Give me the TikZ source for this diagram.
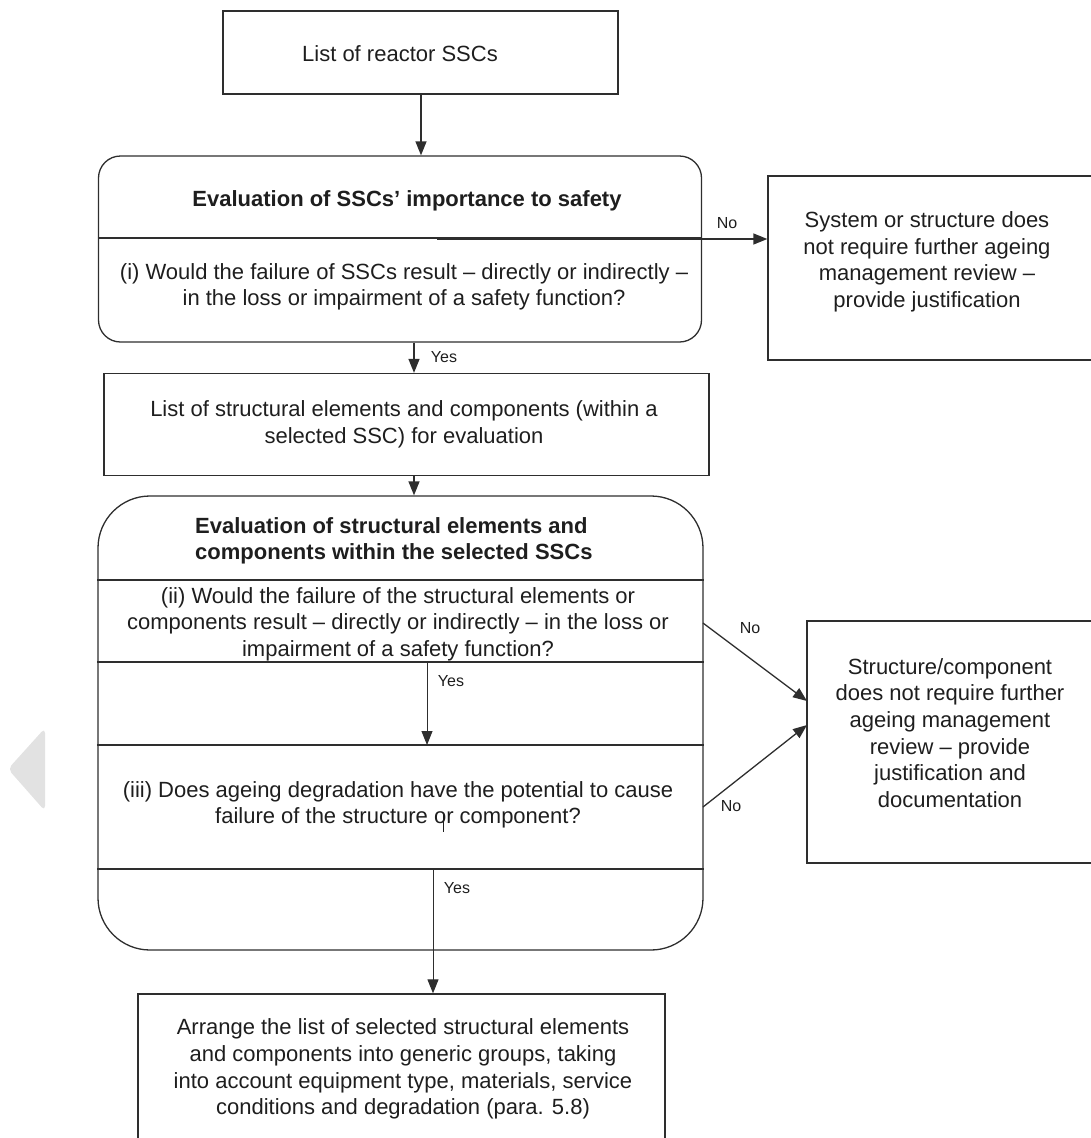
\documentclass[tikz,border=0pt]{standalone}
\usepackage{fontspec}
\setmainfont{Liberation Sans}
\usetikzlibrary{arrows.meta}
\definecolor{ln}{HTML}{2E2E2E}
\definecolor{tx}{HTML}{1E1E1E}
\definecolor{ghost}{HTML}{E2E2E2}
\begin{document}
\begin{tikzpicture}[x=1pt,y=-1pt,
  box/.style={draw=ln, line width=1.3pt, inner sep=0pt},
  txt/.style={font=\fontsize{22}{26.6}\selectfont, text=tx, align=center, inner sep=0pt},
  ttl/.style={font=\bfseries\fontsize{22}{26.6}\selectfont, text=tx, inner sep=0pt},
  lab/.style={font=\fontsize{16}{18}\selectfont, text=tx, inner sep=0pt},
  arr/.style={draw=ln, line width=1.3pt, -{Triangle[length=14pt,width=11pt]}},
  tarr/.style={draw=ln, line width=1pt, -{Triangle[length=14pt,width=11pt]}},
  divl/.style={draw=ln, line width=1.2pt}]
\useasboundingbox (0,0) rectangle (1091,1138);

% ghost navigation triangle
\fill[ghost, rounded corners=5pt] (45,728) -- (8,769) -- (45,811) -- cycle;

% boxes
\node[box, minimum width=395pt, minimum height=83pt] (b1) at (420.5,52.5) {};
\node[box, rounded corners=22pt, minimum width=603pt, minimum height=186pt] (b2) at (400,249) {};
\node[box, minimum width=325pt, minimum height=184pt] (b3) at (930.5,268) {};
\node[box, minimum width=605pt, minimum height=102pt] (b4) at (406.5,424.5) {};
\node[box, rounded corners=52pt, minimum width=605pt, minimum height=454pt] (b5) at (400.5,723) {};
\node[box, minimum width=527pt, minimum height=146pt] (b6) at (401.5,1067) {};
\node[box, minimum width=286pt, minimum height=242pt] (b7) at (950,742) {};

% dividers
\draw[divl] (b2.west |- 0,238) -- (b2.east |- 0,238);
\draw[divl] (b5.west |- 0,580) -- (b5.east |- 0,580);
\draw[divl] (b5.west |- 0,662) -- (b5.east |- 0,662);
\draw[divl] (b5.west |- 0,745) -- (b5.east |- 0,745);
\draw[divl] (b5.west |- 0,869) -- (b5.east |- 0,869);

% texts
\node[txt] (t1) at (400,54) {List of reactor SSCs};
\node[ttl] (t2a) at (407,201) {Evaluation of SSCs’ importance to safety};
\node[txt] (t2b) at (404,287) {(i) Would the failure of SSCs result – directly or indirectly –\\in the loss or impairment of a safety function?};
\node[txt] (t3) at (927,262) {System or structure does\\not require further ageing\\management review –\\provide justification};
\node[txt] (t4) at (404,424) {List of structural elements and components (within a\\selected SSC) for evaluation};
\node[ttl, align=left, anchor=west] (t5a) at (195,541) {Evaluation of structural elements and\\components within the selected SSCs};
\node[txt] (t5b) at (398,624) {(ii) Would the failure of the structural elements or\\components result – directly or indirectly – in the loss or\\impairment of a safety function?};
\node[txt] (t5c) at (398,805) {(iii) Does ageing degradation have the potential to cause\\failure of the structure or component?};
\node[txt] (t6) at (403,1069) {Arrange the list of selected structural elements\\and components into generic groups, taking\\into account equipment type, materials, service\\conditions and degradation (para. 5.8)};
\node[txt] (t7) at (950,733) {Structure/component\\does not require further\\ageing management\\review – provide\\justification and\\documentation};

% text cursor artifact
\draw[tx, line width=0.8pt] (443,814) -- (443,832);

% connectors
\draw[arr] (b1.south -| 421,0) -- (b2.north -| 421,0);
\coordinate (n1) at (437,239);
\draw[arr] (n1) -- (b3.west |- n1);
\node[lab] (lno1) at (727,223) {No};

\draw[arr] (b2.south -| 414,0) -- (b4.north -| 414,0);
\node[lab] (lyes1) at (444,357) {Yes};
\draw[arr] (b4.south -| 414,0) -- (b5.north -| 414,0);

\coordinate (y2s) at (427,662);
\coordinate (y2e) at (427,745);
\draw[tarr] (y2s) -- (y2e);
\node[lab] (lyes2) at (451,681) {Yes};

\coordinate (y3s) at (433,869);
\draw[tarr] (y3s) -- (b6.north -| y3s);
\node[lab] (lyes3) at (457,888) {Yes};

\coordinate (no2s) at (703,623);
\coordinate (no2e) at (807,701);
\draw[arr] (no2s) -- (no2e);
\node[lab] (lno2) at (750,628) {No};
\coordinate (no3s) at (703,807);
\coordinate (no3e) at (807,725);
\draw[arr] (no3s) -- (no3e);
\node[lab] (lno3) at (731,806) {No};
\end{tikzpicture}
\end{document}
